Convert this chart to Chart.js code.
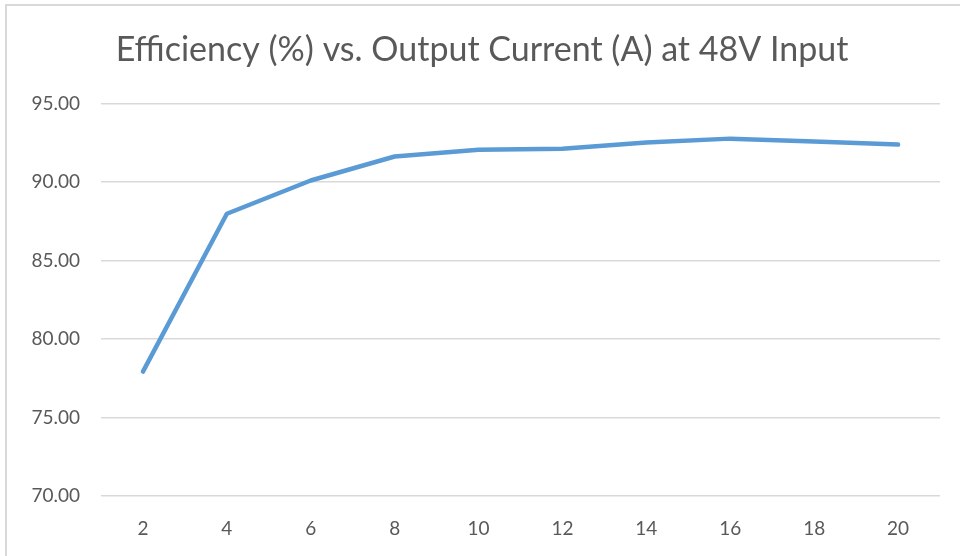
<!DOCTYPE html>
<html>
<head>
<meta charset="utf-8">
<script src="https://cdn.jsdelivr.net/npm/chart.js@4.4.1/dist/chart.umd.min.js"></script>
<style>
  html, body { margin: 0; padding: 0; background: #ffffff; }
  #wrap { position: relative; width: 960px; height: 556px; overflow: hidden; }
  #frame { position: absolute; left: 5px; top: 4px; width: 1000px; height: 600px;
           border-left: 2px solid #d9d9d9; border-top: 2px solid #d9d9d9; }
  canvas { position: absolute; left: 0; top: 0; }
</style>
</head>
<body>
<div id="wrap">
  <div id="frame"></div>
  <canvas id="c" width="960" height="556"></canvas>
</div>
<script>
const chartTitle = "Efficiency (%) vs. Output Current (A) at 48V Input";
const currents = ["2", "4", "6", "8", "10", "12", "14", "16", "18", "20"];
const efficiency = [77.93, 87.99, 90.11, 91.64, 92.07, 92.14, 92.53, 92.78, 92.59, 92.40];
const yTicks = [70, 75, 80, 85, 90, 95];

const textColor = "#595959";
const gridColor = "#d9d9d9";
const fontFamily = "Lato, 'Open Sans', sans-serif";

new Chart(document.getElementById("c"), {
  type: "line",
  data: {
    labels: currents,
    datasets: [{
      label: "Efficiency",
      data: efficiency,
      borderColor: "#5b9bd5",
      backgroundColor: "#5b9bd5",
      borderWidth: 4.5,
      borderCapStyle: "round",
      borderJoinStyle: "round",
      pointRadius: 0,
      tension: 0,
      fill: false
    }]
  },
  options: {
    responsive: false,
    animation: false,
    devicePixelRatio: 1,
    layout: { padding: { left: 24, right: 20, top: 0, bottom: 0 } },
    plugins: {
      legend: { display: false },
      tooltip: { enabled: false },
      title: {
        display: true,
        text: chartTitle,
        color: textColor,
        font: { family: fontFamily, size: 34, weight: "normal", lineHeight: 1.2 },
        padding: { top: 30, bottom: 33 }
      }
    },
    scales: {
      x: {
        offset: true,
        grid: { display: false, drawTicks: false },
        border: { display: false },
        ticks: {
          color: textColor,
          font: { family: fontFamily, size: 19 },
          padding: 21,
          maxRotation: 0
        },
        afterFit: (s) => { s.height = 60; }
      },
      y: {
        min: yTicks[0],
        max: yTicks[yTicks.length - 1],
        afterBuildTicks: (s) => { s.ticks = yTicks.map(v => ({ value: v })); },
        grid: { color: gridColor, lineWidth: 1.5, drawTicks: false },
        border: { display: false },
        ticks: {
          color: textColor,
          font: { family: fontFamily, size: 19 },
          padding: 21,
          callback: (v) => Number(v).toFixed(2)
        },
        afterFit: (s) => { s.width = 77; }
      }
    }
  }
});
</script>
</body>
</html>
